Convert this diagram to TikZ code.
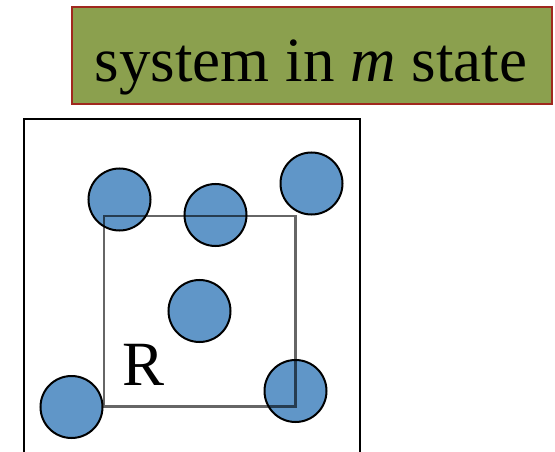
\documentclass[tikz,border=0pt]{standalone}
\usepackage{fontspec}
\setmainfont{Liberation Serif}
\definecolor{titlefill}{RGB}{139,160,78}
\definecolor{titledraw}{RGB}{160,40,30}
\definecolor{ballfill}{RGB}{96,150,200}
\begin{document}
\begin{tikzpicture}[x=1pt,y=-1pt,
  ball/.style={circle,draw=black,line width=2pt,fill=ballfill,minimum size=62pt,inner sep=0pt},
  titlebox/.style={draw=titledraw,line width=1.5pt,fill=titlefill},
  bigtext/.style={font=\fontsize{63}{75}\selectfont,inner sep=0pt}]
\useasboundingbox (0,0) rectangle (555,452);
% title
\draw[titlebox] (72,7) rectangle (552,104);
\node[bigtext,anchor=base] (title) at (311,81.5) {system in \textit{m} state};
% outer box
\draw[line width=2pt] (23.5,460) -- (23.5,119.5) -- (359.5,119.5) -- (359.5,460);
% balls
\node[ball] (b1) at (119.5,199.5) {};
\node[ball] (b2) at (215.5,215) {};
\node[ball] (b3) at (311.5,183.5) {};
\node[ball] (b4) at (199.5,311) {};
\node[ball] (b5) at (71.5,407) {};
\node[ball] (b6) at (295.5,391) {};
% region R
\draw[line width=2.5pt,draw=black,opacity=0.6] (104,216) rectangle (295.5,406.5);
\node[bigtext,anchor=base west] (R) at (122,385) {R};
\end{tikzpicture}
\end{document}
